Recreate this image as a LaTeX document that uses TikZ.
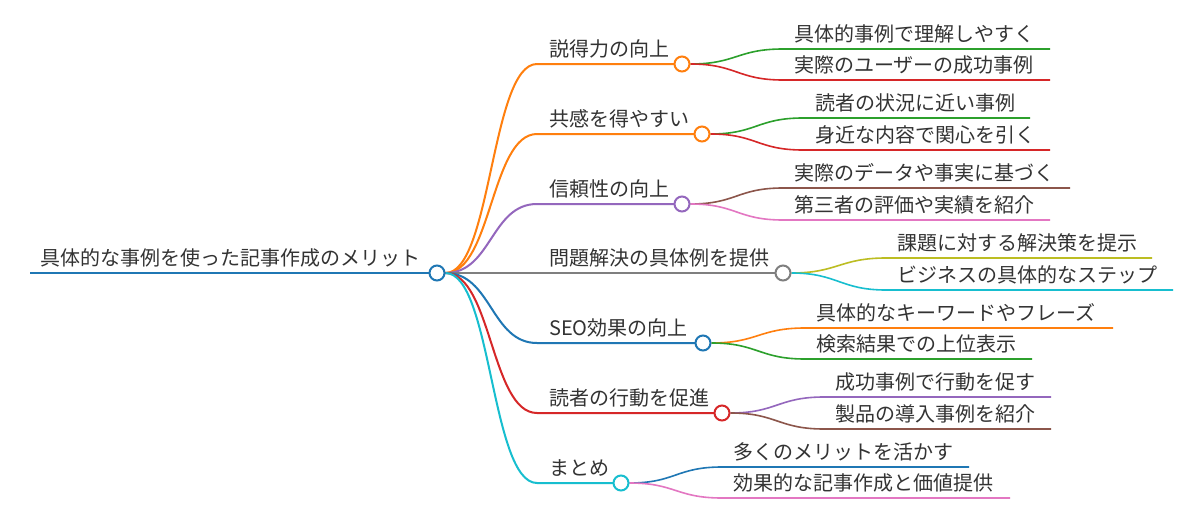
\documentclass[tikz,border=0pt]{standalone}
\usepackage{fontspec}
\setmainfont{Noto Sans CJK JP}
\usetikzlibrary{calc}
\pgfdeclarelayer{bg}
\pgfsetlayers{bg,main}
\definecolor{cblue}{HTML}{1F77B4}
\definecolor{corange}{HTML}{FF7F0E}
\definecolor{cgreen}{HTML}{2CA02C}
\definecolor{cred}{HTML}{D62728}
\definecolor{cpurple}{HTML}{9467BD}
\definecolor{cbrown}{HTML}{8C564B}
\definecolor{cpink}{HTML}{E377C2}
\definecolor{cgray}{HTML}{7F7F7F}
\definecolor{colive}{HTML}{BCBD22}
\definecolor{ccyan}{HTML}{17BECF}
\definecolor{txt}{HTML}{333333}
\begin{document}
\begin{tikzpicture}[x=1pt,y=-1pt,
  every node/.style={font=\fontsize{20pt}{24pt}\selectfont, text=txt, inner sep=0pt},
  lbl/.style={anchor=base west},
  dot/.style={circle, draw, fill=white, line width=2pt, minimum size=15pt, inner sep=0pt},
  link/.style={to path={.. controls ($(\tikztostart)+(46,0)$) and ($(\tikztotarget)+(-46,0)$) .. (\tikztotarget)}},
  lk0/.style={line width=2.5pt},
  lk1/.style={line width=2pt},
  lk2/.style={line width=1.6pt}]
\useasboundingbox (0,0) rectangle (1200,522);

% root
\coordinate (rs) at (30,273);
\node[dot, draw=cblue] (r) at (437,273) {};
\node[lbl] (rt) at (40,265) {具体的な事例を使った記事作成のメリット};

% level 1
\node[dot, draw=corange] (a) at (682,64) {};
\coordinate (sa) at (537,64);
\node[lbl] (ta) at (549,56) {説得力の向上};

\node[dot, draw=corange] (b) at (702,134) {};
\coordinate (sb) at (537,134);
\node[lbl] (tb) at (549,126) {共感を得やすい};

\node[dot, draw=cpurple] (c) at (682,204) {};
\coordinate (sc) at (537,204);
\node[lbl] (tc) at (549,196) {信頼性の向上};

\node[dot, draw=cgray] (d) at (783,273) {};
\coordinate (sd) at (537,273);
\node[lbl] (td) at (549,265) {問題解決の具体例を提供};

\node[dot, draw=cblue] (e) at (703,343) {};
\coordinate (se) at (537,343);
\node[lbl] (te) at (549,335) {SEO効果の向上};

\node[dot, draw=cred] (f) at (722,413) {};
\coordinate (sf) at (537,413);
\node[lbl] (tf) at (549,405) {読者の行動を促進};

\node[dot, draw=ccyan] (g) at (621,483) {};
\coordinate (sg) at (537,483);
\node[lbl] (tg) at (549,475) {まとめ};

% level 2
\coordinate (sa1) at (783,49);  \coordinate (ea1) at (1050,49);
\node[lbl] (ta1) at (794,41) {具体的事例で理解しやすく};
\coordinate (sa2) at (783,80);  \coordinate (ea2) at (1050,80);
\node[lbl] (ta2) at (794,72) {実際のユーザーの成功事例};

\coordinate (sb1) at (803,118); \coordinate (eb1) at (1030,118);
\node[lbl] (tb1) at (815,110) {読者の状況に近い事例};
\coordinate (sb2) at (803,150); \coordinate (eb2) at (1050,150);
\node[lbl] (tb2) at (815,142) {身近な内容で関心を引く};

\coordinate (sc1) at (783,188); \coordinate (ec1) at (1070,188);
\node[lbl] (tc1) at (794,180) {実際のデータや事実に基づく};
\coordinate (sc2) at (783,220); \coordinate (ec2) at (1050,220);
\node[lbl] (tc2) at (794,212) {第三者の評価や実績を紹介};

\coordinate (sd1) at (886,258); \coordinate (ed1) at (1152,258);
\node[lbl] (td1) at (897,250) {課題に対する解決策を提示};
\coordinate (sd2) at (886,290); \coordinate (ed2) at (1173,290);
\node[lbl] (td2) at (897,282) {ビジネスの具体的なステップ};

\coordinate (se1) at (805,328); \coordinate (ee1) at (1113,328);
\node[lbl] (te1) at (816,320) {具体的なキーワードやフレーズ};
\coordinate (se2) at (805,359); \coordinate (ee2) at (1032,359);
\node[lbl] (te2) at (816,351) {検索結果での上位表示};

\coordinate (sf1) at (824,397); \coordinate (ef1) at (1051,397);
\node[lbl] (tf1) at (835,389) {成功事例で行動を促す};
\coordinate (sf2) at (824,429); \coordinate (ef2) at (1051,429);
\node[lbl] (tf2) at (835,421) {製品の導入事例を紹介};

\coordinate (sg1) at (722,467); \coordinate (eg1) at (969,467);
\node[lbl] (tg1) at (733,459) {多くのメリットを活かす};
\coordinate (sg2) at (722,498); \coordinate (eg2) at (1010,498);
\node[lbl] (tg2) at (733,490) {効果的な記事作成と価値提供};

\begin{pgfonlayer}{bg}
\fill[white] (0,0) rectangle (1200,522);
\draw[cblue, lk0] (rs) -- (r.center);
% root to level 1
\draw[corange, lk1] (r.east) to[link] (sa) -- (a.center);
\draw[corange, lk1] (r.east) to[link] (sb) -- (b.center);
\draw[cpurple, lk1] (r.east) to[link] (sc) -- (c.center);
\draw[cgray, lk1] (r.east) -- (sd) -- (d.center);
\draw[cblue, lk1] (r.east) to[link] (se) -- (e.center);
\draw[cred, lk1] (r.east) to[link] (sf) -- (f.center);
\draw[ccyan, lk1] (r.east) to[link] (sg) -- (g.center);
% level 1 to level 2
\draw[cgreen, lk2] (a.east) to[link] (sa1) -- (ea1);
\draw[cred, lk2] (a.east) to[link] (sa2) -- (ea2);
\draw[cgreen, lk2] (b.east) to[link] (sb1) -- (eb1);
\draw[cred, lk2] (b.east) to[link] (sb2) -- (eb2);
\draw[cbrown, lk2] (c.east) to[link] (sc1) -- (ec1);
\draw[cpink, lk2] (c.east) to[link] (sc2) -- (ec2);
\draw[colive, lk2] (d.east) to[link] (sd1) -- (ed1);
\draw[ccyan, lk2] (d.east) to[link] (sd2) -- (ed2);
\draw[corange, lk2] (e.east) to[link] (se1) -- (ee1);
\draw[cgreen, lk2] (e.east) to[link] (se2) -- (ee2);
\draw[cpurple, lk2] (f.east) to[link] (sf1) -- (ef1);
\draw[cbrown, lk2] (f.east) to[link] (sf2) -- (ef2);
\draw[cblue, lk2] (g.east) to[link] (sg1) -- (eg1);
\draw[cpink, lk2] (g.east) to[link] (sg2) -- (eg2);
\end{pgfonlayer}
\end{tikzpicture}
\end{document}
